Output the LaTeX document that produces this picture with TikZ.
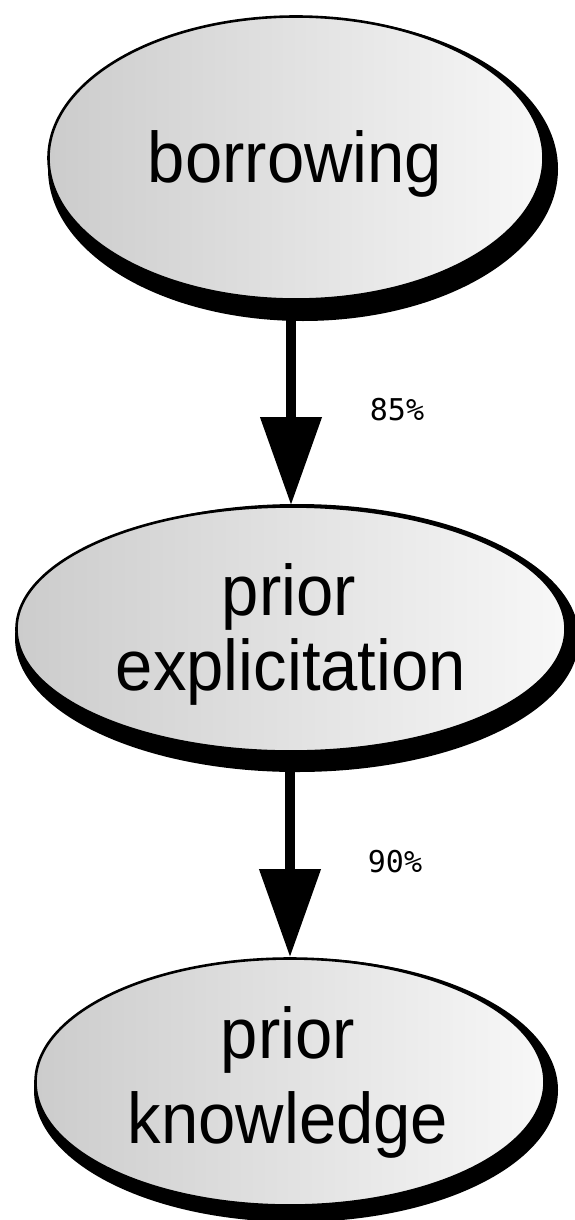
\documentclass[tikz,border=0pt]{standalone}
\usepackage{fontspec}
\setmainfont{Liberation Sans}
\newfontfamily\monof{DejaVu Sans Mono}
\usetikzlibrary{shapes.geometric,arrows.meta}
\newcommand{\tallt}[1]{\scalebox{1}[1.07]{#1}}
\begin{document}
\begin{tikzpicture}[x=1pt,y=-1pt,
  ell/.style={ellipse, draw=black, line width=2.6pt, inner sep=0pt, left color=black!20, right color=black!3},
  shad/.style={ellipse, fill=black, draw=none, inner sep=0pt},
  lbl/.style={font=\fontsize{67}{67}\selectfont, inner sep=0pt, anchor=base},
  pct/.style={font=\monof\fontsize{30}{30}\selectfont, inner sep=0pt},
  arr/.style={line width=10.5pt, -{Triangle[width=59pt,length=88pt]}}]
\useasboundingbox (0,0) rectangle (574,1220);
% shadows
\node[shad, minimum width=510pt, minimum height=304pt] (bs) at (303,169) {};
\node[shad, minimum width=564pt, minimum height=268pt] (es) at (297,638) {};
\node[shad, minimum width=524pt, minimum height=264pt] (ks) at (296,1090) {};
% ellipses
\node[ell, minimum width=495pt, minimum height=283pt] (b) at (296,158) {};
\node[ell, minimum width=549pt, minimum height=245pt] (e) at (291,629) {};
\node[ell, minimum width=509pt, minimum height=247pt] (k) at (290,1082) {};
% texts
\node[lbl] (tb) at (295,182) {\tallt{borrowing}};
\node[lbl] (te1) at (289,615) {\tallt{prior}};
\node[lbl] (te2) at (291,690) {\tallt{explicitation}};
\node[lbl] (tk1) at (288,1058) {\tallt{prior}};
\node[lbl] (tk2) at (288,1143) {\tallt{knowledge}};
% arrows
\draw[arr] (b.south -| e.north) -- (e.north);
\draw[arr] (e.south -| k.north) -- (k.north);
% labels
\node[pct] (p1) at (397,410) {85\%};
\node[pct] (p2) at (395,862) {90\%};
\end{tikzpicture}
\end{document}
